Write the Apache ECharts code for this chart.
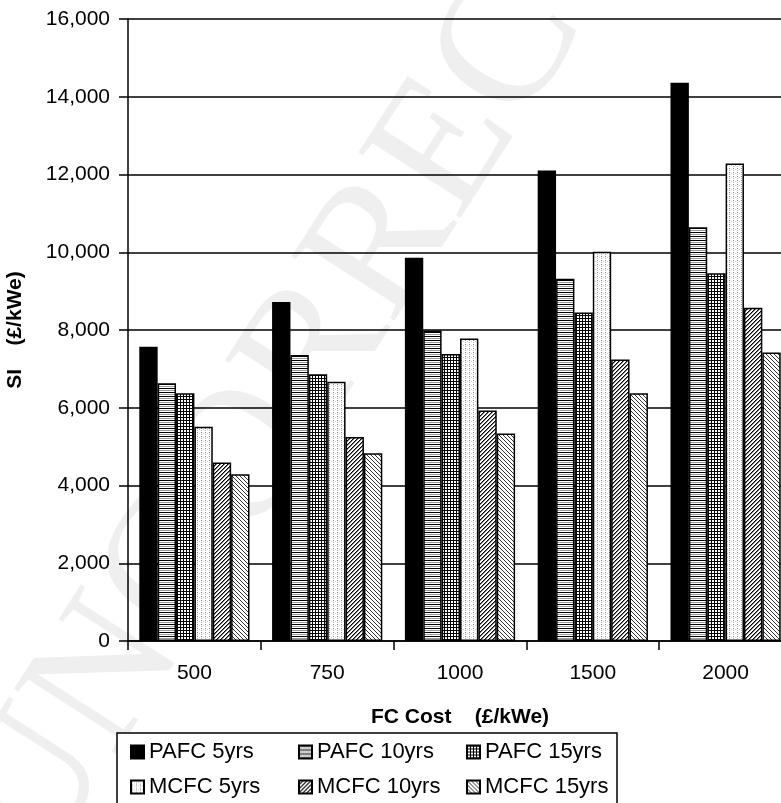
<!DOCTYPE html>
<html>
<head>
<meta charset="utf-8">
<script src="https://cdn.jsdelivr.net/npm/echarts@6/dist/echarts.min.js"></script>
<style>
html,body{margin:0;padding:0;background:#fff;}
#chart{width:781px;height:803px;}
</style>
</head>
<body>
<div id="chart"></div>
<script>
// ---- data ----
const categories = ['500', '750', '1000', '1500', '2000'];
const seriesNames = ['PAFC 5yrs', 'PAFC 10yrs', 'PAFC 15yrs', 'MCFC 5yrs', 'MCFC 10yrs', 'MCFC 15yrs'];
const pafc5  = [7570, 8720, 9860, 12100, 14360];
const pafc10 = [6630, 7360, 7990, 9320, 10640];
const pafc15 = [6370, 6860, 7380, 8450, 9460];
const mcfc5  = [5510, 6670, 7780, 10010, 12280];
const mcfc10 = [4590, 5250, 5930, 7240, 8570];
const mcfc15 = [4290, 4830, 5340, 6370, 7420];
const yTicks = { min: 0, max: 16000, interval: 2000 };
const xAxisTitle = 'FC Cost    (£/kWe)';
const yAxisTitle = 'SI    (£/kWe)';

// ---- patterns ----
function makePattern(type) {
  const c = document.createElement('canvas');
  const ctx = c.getContext('2d');
  function px(x, y, col) { ctx.fillStyle = col; ctx.fillRect(x, y, 1, 1); }
  if (type === 'solid') {
    c.width = 4; c.height = 4; ctx.fillStyle = '#000'; ctx.fillRect(0, 0, 4, 4);
  } else if (type === 'hlines') {
    c.width = 4; c.height = 4; ctx.fillStyle = '#fff'; ctx.fillRect(0, 0, 4, 4);
    ctx.fillStyle = '#000'; ctx.fillRect(0, 0, 4, 1);
    ctx.fillStyle = '#999'; ctx.fillRect(0, 2, 4, 1);
  } else if (type === 'grid') {
    c.width = 3; c.height = 3; ctx.fillStyle = '#fff'; ctx.fillRect(0, 0, 3, 3);
    ctx.fillStyle = '#000'; ctx.fillRect(0, 0, 3, 1); ctx.fillRect(0, 0, 1, 3);
  } else if (type === 'dots') {
    c.width = 4; c.height = 4; ctx.fillStyle = '#fff'; ctx.fillRect(0, 0, 4, 4);
    px(1, 0, '#888'); px(1, 2, '#bbb'); px(3, 1, '#ccc');
  } else if (type === 'fwd') {
    c.width = 4; c.height = 4; ctx.fillStyle = '#fff'; ctx.fillRect(0, 0, 4, 4);
    px(3, 0, '#000'); px(2, 1, '#000'); px(1, 2, '#000'); px(0, 3, '#000');
    px(0, 0, '#777'); px(3, 1, '#777'); px(2, 2, '#777'); px(1, 3, '#777');
  } else if (type === 'back') {
    c.width = 4; c.height = 4; ctx.fillStyle = '#fff'; ctx.fillRect(0, 0, 4, 4);
    px(0, 0, '#333'); px(1, 1, '#333'); px(2, 2, '#333'); px(3, 3, '#333');
  }
  return { image: c, repeat: 'repeat' };
}
const patternTypes = ['solid', 'hlines', 'grid', 'dots', 'fwd', 'back'];
const seriesData = [pafc5, pafc10, pafc15, mcfc5, mcfc10, mcfc15];

const FONT = '"Liberation Sans", Arial, sans-serif';

function legendCfg(extra) {
  return Object.assign({
    left: 117,
    width: 496,
    orient: 'horizontal',
    itemWidth: 13, itemHeight: 13,
    itemGap: 20,
    icon: 'rect',
    selectedMode: false,
    textStyle: { fontFamily: FONT, fontSize: 22, color: '#000', width: 129, lineHeight: 22 }
  }, extra);
}

const chart = echarts.init(document.getElementById('chart'), null, { renderer: 'canvas' });
const option = {
  backgroundColor: '#fff',
  animation: false,
  graphic: [{
    type: 'text',
    silent: true,
    z: -10,
    x: 0, y: 845,
    rotation: 1.0,
    style: {
      text: 'UNCORRECTED PROOF',
      font: '185px "Liberation Serif", "DejaVu Serif", serif',
      fill: '#efefef',
      textVerticalAlign: 'middle',
      textAlign: 'left'
    }
  }],
  grid: { left: 128, top: 19, width: 664, height: 622, containLabel: false, outerBoundsMode: 'none' },
  legend: [
    legendCfg({
      data: seriesNames.slice(0, 3),
      top: 733,
      padding: [8, 3, 50, 13],
      borderColor: '#000', borderWidth: 1.5,
      backgroundColor: '#fff',
      z: 4
    }),
    legendCfg({
      data: seriesNames.slice(3),
      top: 768,
      padding: [8, 3, 10, 13],
      z: 5
    })
  ],
  xAxis: {
    type: 'category',
    data: categories,
    name: xAxisTitle,
    nameLocation: 'middle',
    nameGap: 66,
    nameTextStyle: { fontFamily: FONT, fontSize: 21, fontWeight: 'bold', color: '#000' },
    axisLine: { lineStyle: { color: '#000', width: 1.5 } },
    axisTick: { show: true, length: 9, lineStyle: { color: '#000', width: 1.5 } },
    axisLabel: { fontFamily: FONT, fontSize: 21, color: '#000', margin: 22 },
    splitLine: { show: false }
  },
  yAxis: {
    type: 'value',
    min: yTicks.min, max: yTicks.max, interval: yTicks.interval,
    name: yAxisTitle,
    nameLocation: 'middle',
    nameGap: 102,
    nameRotate: 90,
    nameTextStyle: { fontFamily: FONT, fontSize: 21, fontWeight: 'bold', color: '#000' },
    axisLine: { show: true, lineStyle: { color: '#000', width: 1.5 } },
    axisTick: { show: true, length: 9, lineStyle: { color: '#000', width: 1.5 } },
    axisLabel: {
      fontFamily: FONT, fontSize: 21, color: '#000', margin: 18,
      formatter: v => v.toLocaleString('en-US')
    },
    splitLine: { show: true, lineStyle: { color: '#000', width: 1.5 } }
  },
  series: seriesNames.map((name, i) => ({
    name: name,
    type: 'bar',
    data: seriesData[i],
    barGap: '0%',
    barCategoryGap: '17%',
    itemStyle: { color: makePattern(patternTypes[i]), borderColor: '#000', borderWidth: 1.5 },
    emphasis: { disabled: true }
  }))
};
chart.setOption(option);
</script>
</body>
</html>
